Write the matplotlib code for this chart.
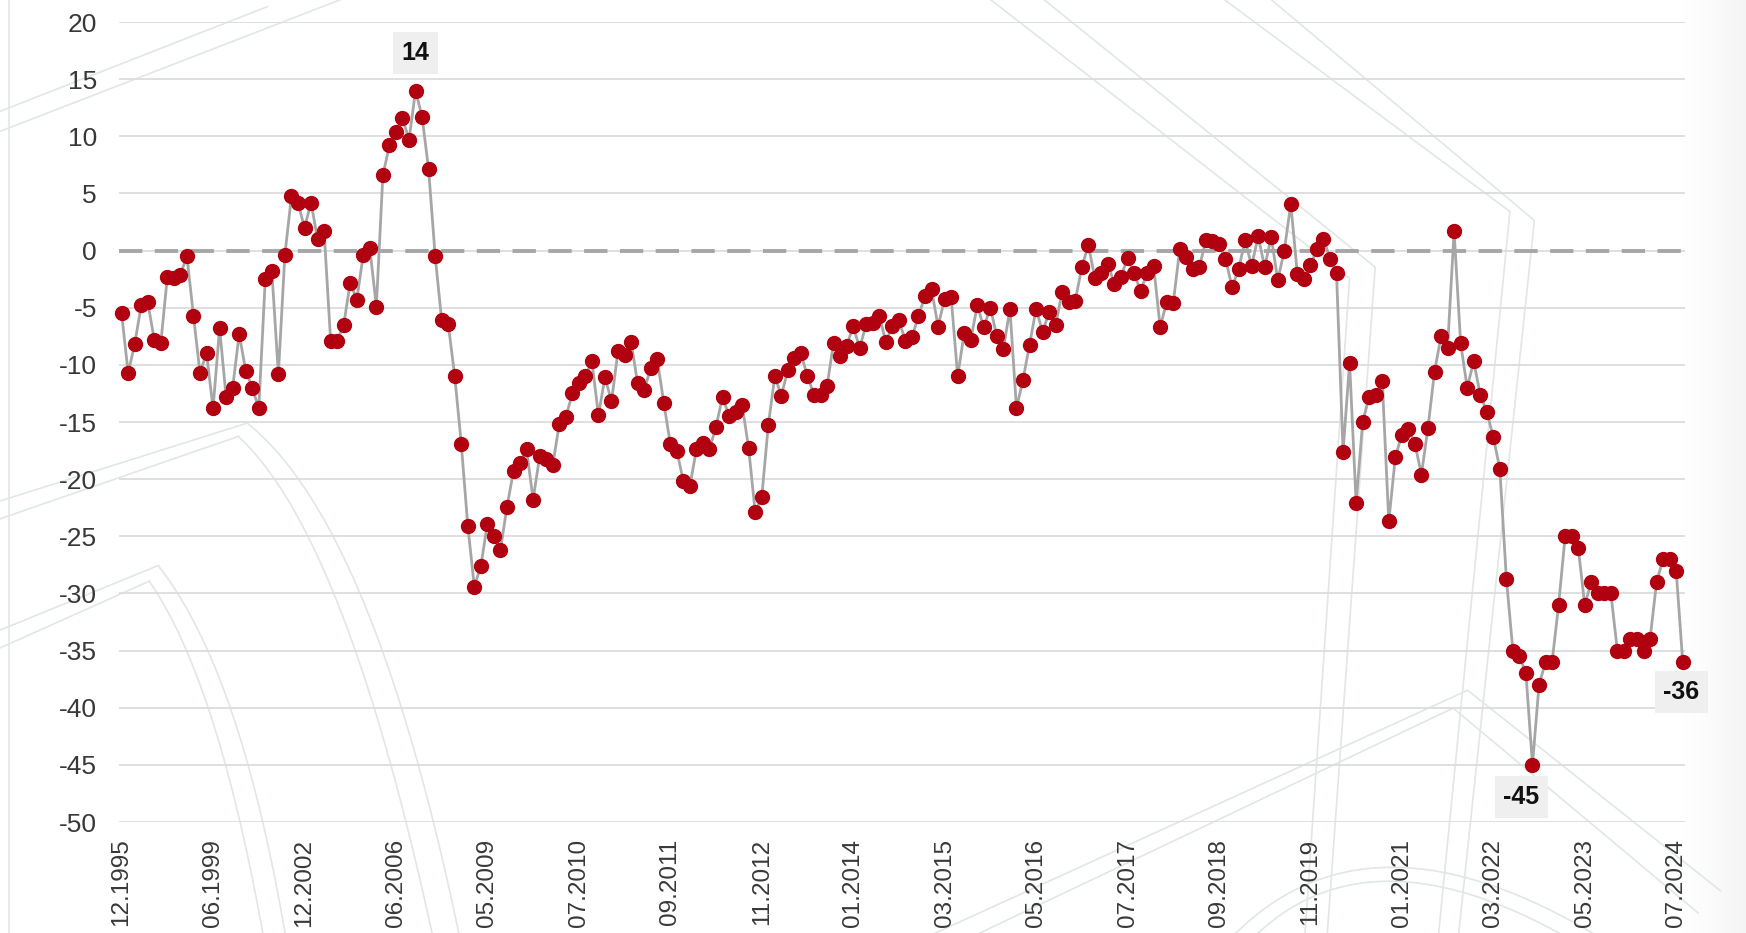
import matplotlib.pyplot as plt
import numpy as np

plt.rcParams['font.family'] = ['Liberation Sans', 'DejaVu Sans']
plt.rcParams['axes.unicode_minus'] = False

# tick labels, one every 14 categories
tick_labels = ["12.1995", "06.1999", "12.2002", "06.2006", "05.2009", "07.2010",
               "09.2011", "11.2012", "01.2014", "03.2015", "05.2016", "07.2017",
               "09.2018", "11.2019", "01.2021", "03.2022", "05.2023", "07.2024"]
tick_step = 14

# series values
values = [
    -5.5, -10.7, -8.2, -4.8, -4.5, -7.8, -8.1, -2.3, -2.4, -2.1,
    -0.5, -5.7, -10.7, -9.0, -13.8, -6.8, -12.8, -12.0, -7.3, -10.5,
    -12.0, -13.8, -2.45, -1.8, -10.8, -0.35, 4.75, 4.2, 2.0, 4.2,
    1.0, 1.7, -7.9, -7.9, -6.5, -2.8, -4.3, -0.35, 0.2, -4.9,
    6.6, 9.2, 10.4, 11.6, 9.7, 14.0, 11.7, 7.1, -0.45, -6.1,
    -6.4, -11.0, -16.9, -24.1, -29.4, -27.6, -23.9, -25.0, -26.2, -22.4,
    -19.3, -18.6, -17.4, -21.8, -18.0, -18.2, -18.8, -15.2, -14.6, -12.5,
    -11.6, -11.0, -9.7, -14.4, -11.1, -13.2, -8.8, -9.1, -8.0, -11.6,
    -12.2, -10.3, -9.5, -13.3, -16.9, -17.5, -20.2, -20.6, -17.4, -16.8,
    -17.4, -15.4, -12.8, -14.5, -14.1, -13.5, -17.3, -22.9, -21.6, -15.3,
    -11.0, -12.7, -10.45, -9.4, -9.0, -11.0, -12.6, -12.6, -11.85, -8.06,
    -9.2, -8.35, -6.6, -8.55, -6.4, -6.3, -5.7, -8.0, -6.6, -6.1,
    -7.9, -7.6, -5.7, -4.0, -3.4, -6.65, -4.2, -4.1, -11.0, -7.2,
    -7.8, -4.8, -6.7, -5.0, -7.5, -8.6, -5.1, -13.8, -11.3, -8.25,
    -5.1, -7.1, -5.4, -6.5, -3.6, -4.5, -4.4, -1.45, 0.5, -2.4,
    -1.95, -1.15, -2.95, -2.3, -0.65, -1.95, -3.55, -1.95, -1.35, -6.7,
    -4.5, -4.6, 0.15, -0.55, -1.65, -1.45, 0.9, 0.8, 0.6, -0.7,
    -3.2, -1.65, 0.9, -1.35, 1.25, -1.45, 1.2, -2.6, 0.0, 4.1,
    -2.05, -2.45, -1.3, 0.1, 1.05, -0.7, -2.0, -17.6, -9.8, -22.1,
    -15.0, -12.8, -12.6, -11.4, -23.7, -18.1, -16.1, -15.6, -16.9, -19.6,
    -15.5, -10.6, -7.5, -8.5, 1.7, -8.1, -12.0, -9.7, -12.6, -14.1,
    -16.3, -19.1, -28.7, -35.0, -35.5, -37.0, -45.0, -38.0, -36.0, -36.0,
    -31.0, -25.0, -25.0, -26.0, -31.0, -29.0, -30.0, -30.0, -30.0, -35.0,
    -35.0, -34.0, -34.0, -35.0, -34.0, -29.0, -27.0, -27.0, -28.0, -36.0,
]

x = np.arange(len(values))
ticks = np.arange(0, len(tick_labels) * tick_step, tick_step)


def bezier(p0, p1, p2, n=40):
    t = np.linspace(0, 1, n)[:, None]
    p0, p1, p2 = map(np.asarray, (p0, p1, p2))
    return (1 - t) ** 2 * p0 + 2 * (1 - t) * t * p1 + t ** 2 * p2


fig = plt.figure(figsize=(17.46, 9.33), dpi=100)
fig.patch.set_facecolor('white')

# faint decorative background (slide watermark)
bg = fig.add_axes([0, 0, 1, 1], zorder=0)
bg.set_xlim(0, 1568)
bg.set_ylim(838, 0)
bg.axis('off')
grad = np.linspace(0, 1, 64) ** 1.3
bg.imshow(np.tile(grad, (2, 1)), cmap='Greys', vmin=0, vmax=11, aspect='auto',
          extent=(1505, 1568, 838, 0), zorder=0)
deco = '#e0e7e4'
lines = [
    [(0, 100), (240, 6)], [(0, 118), (305, 0)],
    [(0, 450), (222, 380)], [(0, 466), (214, 392)],
    [(0, 566), (142, 508)], [(0, 582), (134, 522)],
    [(890, 0), (1212, 250), (1172, 838)],
    [(938, 0), (1235, 240), (1192, 838)],
    [(1100, 0), (1356, 190), (1292, 838)],
    [(1142, 0), (1378, 198), (1310, 838)],
    [(840, 838), (1318, 620), (1545, 800)],
    [(880, 838), (1305, 636), (1525, 820)],
    [(8, 0), (8, 838)],
]
for pts in lines:
    px, py = zip(*pts)
    bg.plot(px, py, color=deco, lw=1.2, zorder=1)
curves = [
    [(222, 380), (335, 470), (412, 838)],
    [(214, 392), (310, 480), (388, 838)],
    [(142, 508), (215, 600), (256, 838)],
    [(134, 522), (195, 610), (236, 838)],
    [(1110, 838), (1230, 720), (1430, 838)],
    [(1130, 838), (1230, 745), (1400, 838)],
]
for c in curves:
    pts = bezier(*c)
    bg.plot(pts[:, 0], pts[:, 1], color=deco, lw=1.2, zorder=1)

ax = fig.add_axes([119 / 1746, 1 - 822 / 933, (1685 - 119) / 1746, 800 / 933], zorder=2)
ax.patch.set_alpha(0)

ax.plot(x, values, color='#a6a6a6', lw=2.0, marker='o', ms=10,
        mfc='#b1000f', mec='#b1000f', zorder=4, clip_on=False)
ax.axhline(0, color='#a6a6a6', lw=2.8, dashes=(6, 3.2), zorder=3)

ax.set_ylim(-50, 20)
ax.set_yticks(np.arange(-50, 21, 5))
ax.set_xlim(-0.4, len(values) - 1 + 0.35)
ax.set_xticks(ticks)
ax.set_xticklabels(tick_labels, rotation=90, va='top', ha='center')
ax.grid(axis='y', color='#dcdcdc', lw=1.3)
ax.set_axisbelow(True)
for s in ax.spines.values():
    s.set_visible(False)
ax.tick_params(axis='y', length=0, pad=16, labelsize=19, labelcolor='#383838')
ax.tick_params(axis='x', length=0, pad=12, labelsize=17.5, labelcolor='#383838')

# value callouts: maximum, minimum, last
i_max = int(np.argmax(values))
i_min = int(np.argmin(values))
i_last = len(values) - 1
box = dict(boxstyle='square,pad=0.35', fc='#efefef', ec='none')
for i, off in [(i_max, (0, 27)), (i_min, (-8, -23)), (i_last, (-1, -21.5))]:
    ax.annotate(f"{values[i]:.0f}", xy=(i, values[i]), xytext=off,
                textcoords='offset points', ha='center', va='center',
                fontsize=18, fontweight='bold', color='#111111', bbox=box, zorder=5)

fig.savefig('out.png', dpi=100)
